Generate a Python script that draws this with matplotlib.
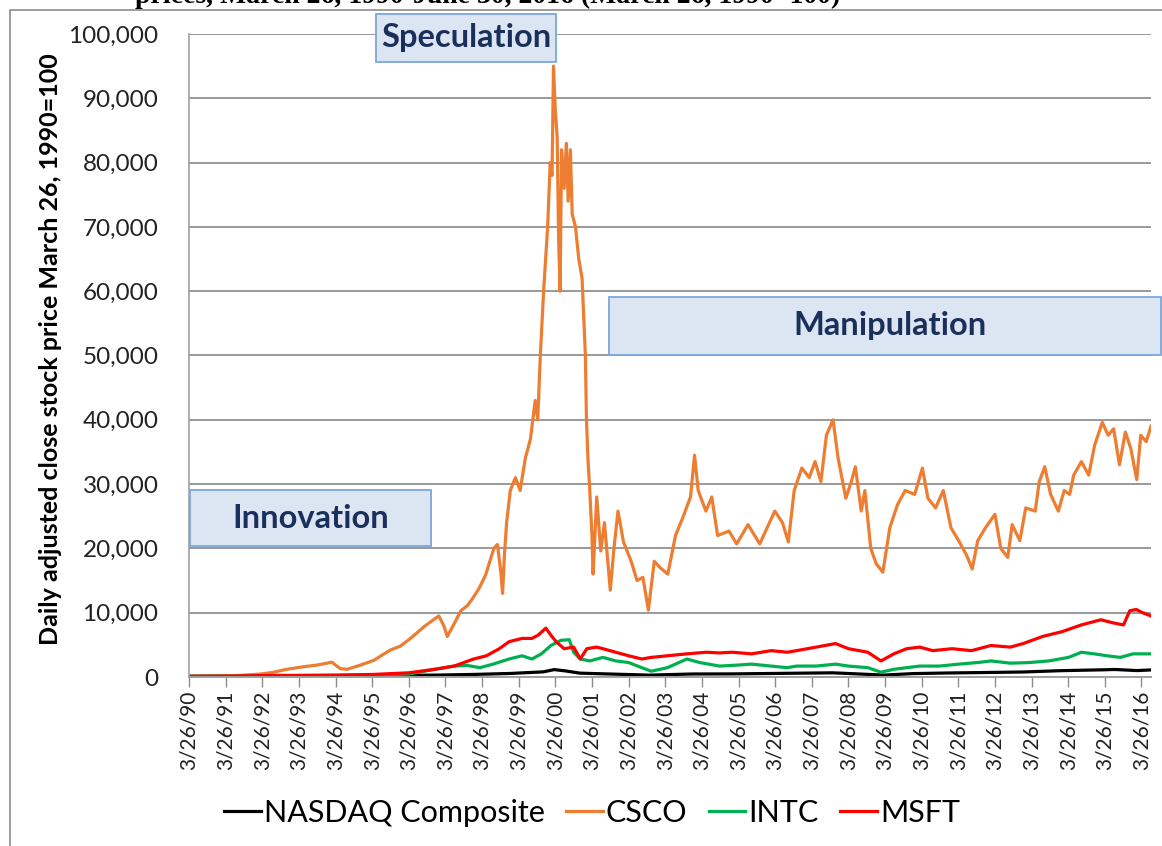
import matplotlib
matplotlib.use("Agg")
import matplotlib.pyplot as plt
from matplotlib.patches import Rectangle
from matplotlib.ticker import FuncFormatter

# Values (index, March 26, 1990 = 100), x in decimal years
csco_t = [1990.23, 1990.6, 1991.0, 1991.6, 1992.17, 1992.5, 1992.9, 1993.36, 1993.72, 1994.13,
          1994.36, 1994.55, 1994.91, 1995.28, 1995.5, 1995.73, 1996.0, 1996.23, 1996.46, 1996.64,
          1996.83, 1997.05, 1997.19, 1997.28, 1997.46, 1997.65, 1997.83, 1997.97, 1998.15, 1998.33,
          1998.47, 1998.56, 1998.65, 1998.74, 1998.79, 1998.84, 1998.9, 1999.0, 1999.14, 1999.27,
          1999.41, 1999.55, 1999.68, 1999.75, 1999.82, 1999.91, 2000.02, 2000.09, 2000.14, 2000.18,
          2000.23, 2000.28, 2000.32, 2000.36, 2000.40, 2000.47, 2000.53, 2000.58, 2000.64, 2000.69,
          2000.78, 2000.87, 2000.96, 2001.05, 2001.08, 2001.12, 2001.17, 2001.23, 2001.26, 2001.36,
          2001.47, 2001.57, 2001.73, 2001.83, 2001.94, 2002.09, 2002.30, 2002.46, 2002.62, 2002.77,
          2002.93, 2003.09, 2003.30, 2003.51, 2003.71, 2003.92, 2004.03, 2004.13, 2004.34, 2004.50,
          2004.66, 2004.97, 2005.18, 2005.49, 2005.81, 2006.22, 2006.43, 2006.59, 2006.75, 2006.96,
          2007.16, 2007.32, 2007.48, 2007.63, 2007.81, 2007.95, 2008.16, 2008.31, 2008.42, 2008.58,
          2008.68, 2008.84, 2008.99, 2009.17, 2009.36, 2009.57, 2009.78, 2010.04, 2010.25, 2010.40,
          2010.61, 2010.82, 2011.03, 2011.24, 2011.45, 2011.61, 2011.76, 2011.97, 2012.23, 2012.39,
          2012.58, 2012.70, 2012.91, 2013.07, 2013.33, 2013.44, 2013.59, 2013.75, 2013.96, 2014.12,
          2014.27, 2014.38, 2014.59, 2014.79, 2014.95, 2015.16, 2015.32, 2015.47, 2015.63, 2015.79,
          2015.94, 2016.10, 2016.21, 2016.36, 2016.49]
csco = [100, 120, 150, 250, 450, 700, 1200, 1600, 1850, 2300,
        1300, 1200, 1850, 2600, 3400, 4200, 4800, 5800, 6900, 7800,
        8600, 9500, 7900, 6300, 8200, 10300, 11100, 12200, 13800, 15900,
        18500, 20100, 20600, 16400, 13000, 19000, 24000, 29000, 31000, 29000,
        34000, 37000, 43000, 40000, 50000, 60000, 70000, 80000, 78000, 95000,
        88000, 84000, 68000, 60000, 82000, 76000, 83000, 74000, 82000, 72000,
        70000, 65000, 62000, 50000, 40000, 34000, 29000, 22000, 16000, 28000,
        19600, 24000, 13500, 20000, 25800, 21000, 18000, 15000, 15500, 10400,
        18000, 17000, 16000, 22000, 24800, 28000, 34500, 29000, 25800, 28000,
        22000, 22700, 20700, 23700, 20700, 25800, 24000, 21000, 29000, 32500,
        31000, 33500, 30400, 37600, 40000, 34000, 27800, 30400, 32700, 25800,
        29000, 20000, 17600, 16300, 23200, 26800, 29000, 28400, 32500, 27800,
        26300, 29000, 23200, 21200, 19000, 16800, 21200, 23200, 25300, 20000,
        18600, 23700, 21200, 26300, 25800, 30400, 32700, 28400, 25800, 29000,
        28400, 31400, 33500, 31400, 36000, 39600, 37600, 38600, 33000, 38100,
        35500, 30700, 37600, 36600, 39000]

msft_t = [1990.23, 1991.5, 1992.5, 1993.5, 1994.29, 1995.26, 1996.23, 1996.94, 1997.47, 1998.0,
          1998.35, 1998.70, 1998.97, 1999.32, 1999.59, 1999.76, 1999.97, 2000.11, 2000.25, 2000.47,
          2000.73, 2000.91, 2001.09, 2001.35, 2001.53, 2001.88, 2002.23, 2002.59, 2002.85, 2003.29,
          2003.82, 2004.35, 2004.71, 2005.06, 2005.59, 2006.12, 2006.56, 2006.82, 2007.35, 2007.88,
          2008.23, 2008.76, 2009.12, 2009.47, 2009.82, 2010.18, 2010.53, 2011.06, 2011.59, 2012.12,
          2012.65, 2013.0, 2013.53, 2014.06, 2014.59, 2015.12, 2015.47, 2015.74, 2015.91, 2016.09,
          2016.26, 2016.49]
msft = [100, 150, 250, 250, 300, 400, 650, 1200, 1700, 2800,
        3300, 4400, 5500, 6000, 6000, 6500, 7600, 6500, 5500, 4400,
        4650, 2800, 4400, 4650, 4400, 3850, 3300, 2800, 3050, 3300,
        3600, 3850, 3750, 3850, 3600, 4100, 3850, 4100, 4650, 5200,
        4400, 3850, 2500, 3600, 4400, 4650, 4100, 4400, 4100, 4900,
        4650, 5200, 6300, 7050, 8100, 8900, 8400, 8100, 10300, 10500,
        10000, 9500]

intc_t = [1990.23, 1991.5, 1992.5, 1993.5, 1994.29, 1995.26, 1996.23, 1996.94, 1997.47, 1997.82,
          1998.17, 1998.53, 1998.97, 1999.32, 1999.59, 1999.85, 2000.11, 2000.38, 2000.61, 2000.73,
          2000.91, 2001.17, 2001.53, 2001.88, 2002.23, 2002.59, 2002.85, 2003.29, 2003.82, 2004.17,
          2004.71, 2005.06, 2005.59, 2006.12, 2006.56, 2006.82, 2007.35, 2007.88, 2008.23, 2008.76,
          2009.12, 2009.47, 2009.82, 2010.18, 2010.71, 2011.24, 2011.76, 2012.12, 2012.65, 2013.18,
          2013.70, 2014.24, 2014.59, 2014.94, 2015.29, 2015.65, 2016.0, 2016.49]
intc = [100, 120, 180, 250, 250, 350, 450, 1200, 1700, 1800,
        1450, 2000, 2800, 3300, 2800, 3600, 4900, 5700, 5800, 3850,
        2800, 2500, 3050, 2500, 2250, 1450, 900, 1450, 2800, 2250,
        1700, 1800, 2000, 1700, 1450, 1700, 1700, 2000, 1700, 1450,
        750, 1200, 1450, 1700, 1700, 2000, 2250, 2500, 2150, 2250,
        2500, 3050, 3850, 3600, 3300, 3050, 3600, 3600]

nasdaq_t = [1990.23, 1991.0, 1992.0, 1993.0, 1994.29, 1995.26, 1996.0, 1997.0, 1998.0, 1999.0,
            1999.9, 2000.2, 2000.5, 2000.9, 2001.5, 2002.8, 2003.5, 2004.0, 2005.0, 2006.0,
            2007.8, 2009.2, 2010.0, 2011.0, 2012.0, 2013.0, 2014.0, 2015.2, 2015.5, 2016.1, 2016.49]
nasdaq = [100, 110, 140, 160, 180, 200, 250, 300, 400, 550,
          800, 1150, 950, 600, 500, 290, 400, 470, 480, 540,
          650, 300, 530, 630, 700, 780, 980, 1120, 1170, 1000, 1100]

years = list(range(1990, 2017))
tick_labels = ["3/26/%02d" % (y % 100) for y in years]

W, H = 1162, 846
fig = plt.figure(figsize=(W / 100, H / 100), dpi=100)
ax = fig.add_axes([189 / W, 1 - 677 / H, (1151 - 189) / W, (677 - 34) / H])

lw = 2.3
ax.plot(nasdaq_t, nasdaq, color="black", lw=lw, label="NASDAQ Composite")
ax.plot(csco_t, csco, color="#ED7D31", lw=lw, label="CSCO")
ax.plot(intc_t, intc, color="#00B050", lw=lw, label="INTC")
ax.plot(msft_t, msft, color="#FF0000", lw=lw, label="MSFT")

ax.set_xlim(1990.23, 2016.49)
ax.set_ylim(0, 100000)
ax.set_yticks(range(0, 100001, 10000))
ax.yaxis.set_major_formatter(FuncFormatter(lambda v, p: "{:,.0f}".format(v)))
ax.set_xticks([y + 0.23 for y in years])
ax.set_xticklabels(tick_labels, rotation=90, family="Lato", fontsize=15)
for lab in ax.get_yticklabels():
    lab.set_family("Lato")
    lab.set_fontsize(17.5)
ax.tick_params(axis="y", length=0, pad=22, colors="#222222")
ax.tick_params(axis="x", length=7, width=1, color="#8c8c8c", pad=3, colors="#222222")
ax.grid(axis="y", color="#999999", lw=1.4)
ax.set_axisbelow(True)
for s in ["top", "right"]:
    ax.spines[s].set_visible(False)
ax.spines["left"].set_color("#a0a0a0")
ax.spines["bottom"].set_color("#a0a0a0")
ax.spines["left"].set_linewidth(1.2)
ax.spines["bottom"].set_linewidth(1.4)

ax.set_ylabel("Daily adjusted close stock price March 26, 1990=100",
              family="Lato", fontweight="bold", fontsize=18)
ax.yaxis.set_label_coords((62 - 189) / (1151 - 189), 0.51)

# outer frame and cut-off title
fig.add_artist(Rectangle((10 / W, -0.05), 1.1, 1 - 10 / H + 0.05, transform=fig.transFigure,
                         fill=False, edgecolor="#8c8c8c", lw=1.2))
fig.text(135 / W, 1 - 3 / H, "prices, March 26, 1990-June 30, 2016 (March 26, 1990=100)",
         family="Liberation Serif", fontweight="bold", fontsize=20, va="baseline")

# phase boxes
boxes = [("Speculation", 376, 14, 556, 62),
         ("Innovation", 190, 490, 431, 546),
         ("Manipulation", 609, 297, 1161, 355)]
for txt, x0, y0, x1, y1 in boxes:
    fig.add_artist(Rectangle((x0 / W, 1 - y1 / H), (x1 - x0) / W, (y1 - y0) / H,
                             transform=fig.transFigure, facecolor="#dce6f2",
                             edgecolor="#7aa7db", lw=1.3))
    cx = (x0 + x1) / 2
    if txt == "Manipulation":
        cx = 890
    fig.text(cx / W, 1 - (y0 + y1) / 2 / H, txt, family="Lato", fontweight="bold",
             fontsize=23.5, color="#1a2f5c", ha="center", va="center")

fig.legend(loc="center", bbox_to_anchor=(592 / W, 1 - 813 / H), ncol=4, frameon=False,
           prop={"family": "Lato", "size": 22}, handlelength=1.2, handletextpad=0.1,
           columnspacing=0.7)

fig.savefig("out.png", dpi=100)
